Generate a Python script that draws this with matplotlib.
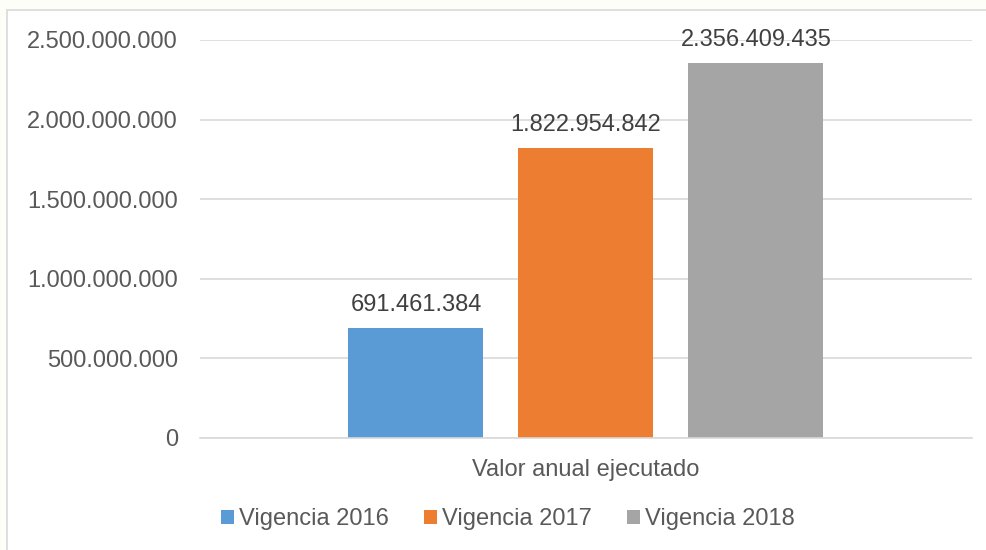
import matplotlib.pyplot as plt
from matplotlib.patches import Rectangle

series = ['Vigencia 2016', 'Vigencia 2017', 'Vigencia 2018']
values = [691461384, 1822954842, 2356409435]
category = 'Valor anual ejecutado'
colors = ['#5B9BD5', '#ED7D31', '#A5A5A5']

def fmt(v):
    return '{:,.0f}'.format(v).replace(',', '.')

plt.rcParams['font.family'] = ['Liberation Sans', 'DejaVu Sans']
txt = '#595959'
fs = 17

fig = plt.figure(figsize=(9.87, 5.5), dpi=100, facecolor='#FEFEF9')
# chart frame
fig.patches.append(Rectangle((7/987, -0.1), 1.0, 1 - 10/550 + 0.1, transform=fig.transFigure,
                             facecolor='white', edgecolor='#D9D9D9', lw=1.2, zorder=-10))

ax = fig.add_axes([200/987, 1 - 438/550, 772/987, 398/550])
ax.set_facecolor('none')
ax.set_zorder(5)

width = 135/772
step = 170/772
for i, (s, v, c) in enumerate(zip(series, values, colors)):
    x = (i - 1) * step
    ax.bar(x, v, width=width, color=c, label=s, zorder=2)
    ax.annotate(fmt(v), (x, v), xytext=(0, 8.5), textcoords='offset points',
                ha='center', va='bottom', fontsize=fs, color='#404040')

ax.set_xlim(-0.5, 0.5)
ax.set_ylim(0, 2.5e9)
yt = [0, 5e8, 1e9, 1.5e9, 2e9, 2.5e9]
ax.set_yticks(yt)
ax.set_yticklabels([fmt(v) for v in yt], fontsize=fs, color=txt)
ax.set_xticks([0])
ax.set_xticklabels([category], fontsize=fs, color=txt)
ax.tick_params(axis='y', length=0, pad=16)
ax.tick_params(axis='x', length=0, pad=15)
ax.grid(axis='y', color='#D9D9D9', lw=1.2, zorder=0)
for sp in ['top', 'right', 'left']:
    ax.spines[sp].set_visible(False)
ax.spines['bottom'].set_color('#D9D9D9')
ax.spines['bottom'].set_linewidth(1.2)

leg = fig.legend(loc='center', bbox_to_anchor=(508/987, 1 - 519/550), ncol=3,
                 frameon=False, fontsize=fs, handlelength=0.55, handleheight=0.55,
                 handletextpad=0.2, columnspacing=1.5, borderaxespad=0)
leg.set_zorder(6)
for t in leg.get_texts():
    t.set_color(txt)

fig.savefig('out.png', dpi=100, facecolor=fig.get_facecolor())
